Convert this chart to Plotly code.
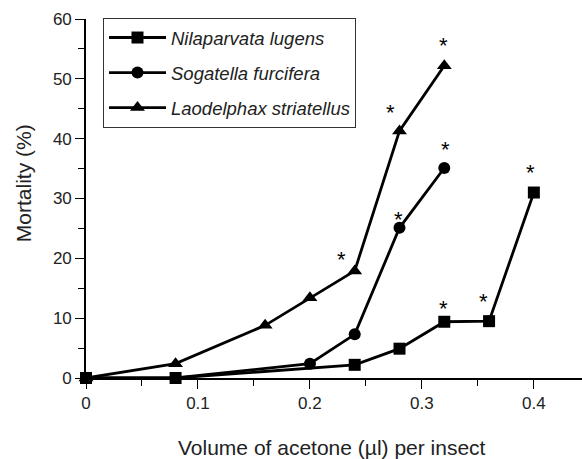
import plotly.graph_objects as go

# Data
nl_x = [0, 0.08, 0.24, 0.28, 0.32, 0.36, 0.40]
nl_y = [0, 0, 2.2, 4.9, 9.4, 9.5, 31.0]
sf_x = [0, 0.08, 0.20, 0.24, 0.28, 0.32]
sf_y = [0, 0, 2.4, 7.3, 25.1, 35.1]
ls_x = [0, 0.08, 0.16, 0.20, 0.24, 0.28, 0.32]
ls_y = [0, 2.4, 8.8, 13.4, 17.9, 41.3, 52.2]

names = ["Nilaparvata lugens", "Sogatella furcifera", "Laodelphax striatellus"]

# significance asterisks (data units)
ast_x = [0.228, 0.272, 0.319, 0.279, 0.321, 0.319, 0.355, 0.397]
ast_y = [20.3, 44.8, 56.0, 27.0, 38.7, 12.2, 13.3, 34.8]

x_ticks = [0, 0.1, 0.2, 0.3, 0.4]
x_tick_labels = ["0", "0.1", "0.2", "0.3", "0.4"]
y_ticks = [0, 10, 20, 30, 40, 50, 60]

FONT = "Liberation Sans, Arial, sans-serif"

# plot-area geometry in pixels (for paper-coordinate placement)
L, R, T, B = 86, 582, 19, 377.7
W, H = R - L, B - T

fig = go.Figure()
series = [(nl_x, nl_y, "square", 12), (sf_x, sf_y, "circle", 12), (ls_x, ls_y, "triangle-up", 13)]
for i, ((xs, ys, sym, sz), nm) in enumerate(zip(series, names)):
    fig.add_trace(go.Scatter(
        x=xs, y=ys, name=nm, mode="lines+markers",
        line=dict(color="black", width=2.8),
        marker=dict(symbol=sym, size=sz, color="black"),
        cliponaxis=False, legendgroup=f"g{i}",
    ))

for ax, ay in zip(ast_x, ast_y):
    fig.add_annotation(x=ax, y=ay, text="*", showarrow=False,
                       font=dict(size=22, color="black", family=FONT),
                       xanchor="center", yanchor="middle", yshift=-3)

# axis titles
fig.add_annotation(x=(332 - L) / W, y=(B - 447) / H, xref="paper", yref="paper",
                   text="Volume of acetone (µl) per insect", showarrow=False,
                   xanchor="center", yanchor="middle",
                   font=dict(size=21, color="#222", family=FONT))
fig.add_annotation(x=(23 - L) / W, y=(B - 183) / H, xref="paper", yref="paper",
                   text="Mortality (%)", textangle=-90, showarrow=False,
                   xanchor="center", yanchor="middle",
                   font=dict(size=21, color="#222", family=FONT))

fig.update_layout(
    width=582, height=459,
    margin=dict(l=L, r=582 - R, t=T, b=459 - B, pad=0),
    paper_bgcolor="white", plot_bgcolor="white",
    font=dict(family=FONT, color="#222", size=16),
    showlegend=True,
    legend=dict(
        x=(103 - L) / W, y=(B - 18) / H, xanchor="left", yanchor="top",
        bordercolor="#333", borderwidth=1,
        font=dict(size=18.5, style="italic", color="#222", family=FONT),
        tracegroupgap=8, traceorder="grouped", itemwidth=57,
        bgcolor="white",
    ),
    xaxis=dict(
        range=[0, 0.443], tickvals=x_ticks, ticktext=x_tick_labels, automargin=False,
        showline=True, linecolor="black", linewidth=1.6,
        ticks="outside", ticklen=9, tickcolor="black", tickwidth=1.3,
        minor=dict(tickvals=[0.05, 0.15, 0.25, 0.35], ticks="outside", ticklen=6, tickcolor="black"),
        showgrid=False, zeroline=False,
        tickfont=dict(size=17),
    ),
    yaxis=dict(
        range=[0, 60], tickvals=y_ticks, automargin=False,
        showline=True, linecolor="black", linewidth=1.6,
        ticks="outside", ticklen=9, tickcolor="black", tickwidth=1.3,
        minor=dict(tickvals=[5, 15, 25, 35, 45, 55], ticks="outside", ticklen=6, tickcolor="black"),
        showgrid=False, zeroline=False,
        tickfont=dict(size=17),
    ),
)

fig.write_html("out.html", post_script="document.body.style.margin='0px';",
               config={"displayModeBar": False})
